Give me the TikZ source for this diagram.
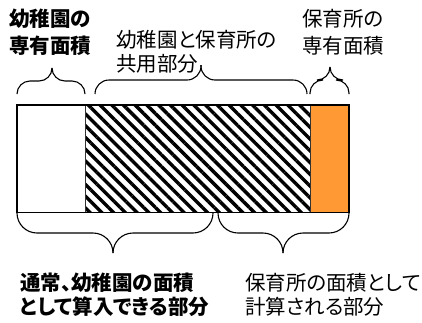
\documentclass[tikz,border=0pt]{standalone}
\usepackage{fontspec}
\setmainfont{Noto Sans CJK JP}[RawFeature=+palt]
\usetikzlibrary{patterns.meta}
\definecolor{orangefill}{HTML}{FF9933}
\tikzset{
  lbl/.style={anchor=base west, inner sep=0pt, align=left, font=\fontsize{20.5}{#1}\selectfont},
  lblb/.style={lbl=#1, font=\fontsize{20.5}{#1}\selectfont\bfseries},
  bracepart/.style={draw, line width=1.1pt, rounded corners=#1},
  outline/.style={draw=black, line width=1.6pt},
  divider/.style={draw=black!80, line width=0.9pt},
  hatch/.style={pattern={Lines[angle=-45, distance=8.3pt, line width=3.4pt]}, pattern color=black}
}
% #1 x1, #2 x2, #3 xmid(tip), #4 y ends, #5 y bar, #6 y tip, #7 radius
\newcommand\curlybr[7]{%
  \path[bracepart=#7] (#1,#4) -- (#1,#5) -- (#3,#5) -- (#3,#6);
  \path[bracepart=#7] (#2,#4) -- (#2,#5) -- (#3,#5) -- (#3,#6);
}
\begin{document}
\begin{tikzpicture}[x=1pt,y=-1pt]
\useasboundingbox (0,0) rectangle (422,322);
% bar
\fill[white] (17,105) rectangle (85,212.5);
\fill[hatch] (85,105) rectangle (310,212.5);
\fill[orangefill] (310,105) rectangle (349,212.5);
\draw[divider] (85,105) -- (85,212.5);
\draw[divider] (310,105) -- (310,212.5);
\draw[outline] (17,105) rectangle (349,212.5);
% top braces
\curlybr{17}{85}{52}{94}{81}{68}{13}
\curlybr{95}{307}{201}{94}{80}{65}{14}
\curlybr{310}{349}{330}{94}{80}{67}{13}
% bottom braces
\curlybr{17}{213}{113}{213}{233}{253}{20}
\curlybr{218}{349}{283}{213}{233}{253}{20}
% labels (anchored at the baseline of the last line)
\node[lblb=27] (kinder) at (9,53.5) {幼稚園の\\専有面積};
\node[lbl=24] (shared) at (116,71) {幼稚園と保育所の\\共用部分};
\node[lbl=27] (nursery) at (302,53.5) {保育所の\\専有面積};
\node[lblb=24] (usual) at (20,314) {通常、幼稚園の面積\\として算入できる部分};
\node[lbl=24] (calc) at (245,314) {保育所の面積として\\計算される部分};
\end{tikzpicture}
\end{document}
